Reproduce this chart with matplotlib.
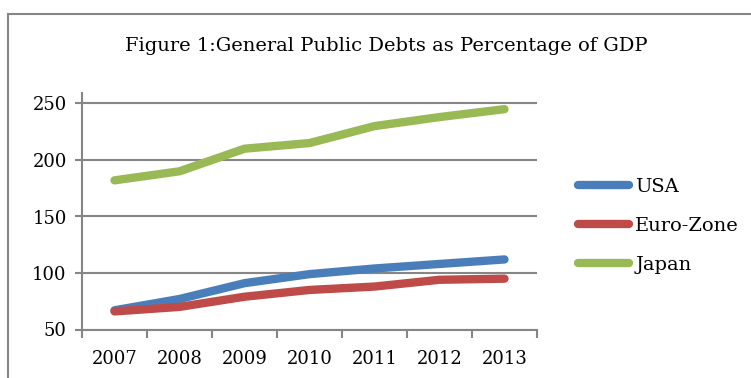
import matplotlib.pyplot as plt
from matplotlib.patches import Rectangle

# values (% of GDP)
years = ['2007', '2008', '2009', '2010', '2011', '2012', '2013']
usa = [67, 77, 91, 99, 104, 108, 112]
euro_zone = [66, 70, 79, 85, 88, 94, 95]
japan = [182, 190, 210, 215, 230, 238, 245]

plt.rcParams['font.family'] = ['DejaVu Serif']
grey = '#868686'

fig = plt.figure(figsize=(7.51, 3.78), dpi=100)
W, H = 751, 378

# chart area frame (runs off the right/bottom like the screenshot)
fig.patches.append(Rectangle((8 / W, -0.1), 1.0, 1 - 13.5 / H + 0.1, transform=fig.transFigure,
                             fill=False, edgecolor=grey, linewidth=1.5))

ax = fig.add_axes([82 / W, 1 - 329.5 / H, (537 - 82) / W, (329.5 - 93) / H])

x = range(len(years))
ax.plot(x, usa, color='#4A7EBB', lw=6, solid_capstyle='round', label='USA')
ax.plot(x, euro_zone, color='#BE4B48', lw=6, solid_capstyle='round', label='Euro-Zone')
ax.plot(x, japan, color='#98B954', lw=6, solid_capstyle='round', label='Japan')

ax.set_ylim(50, 50 + (329.5 - 93) / 1.13)
ax.set_xlim(-0.5, len(years) - 0.5)
ax.set_yticks([50, 100, 150, 200, 250])
ax.yaxis.grid(True, color=grey, lw=1.5)
ax.set_axisbelow(True)

# category boundaries get the tick marks, labels sit in the middle
ax.set_xticks([i - 0.5 for i in range(len(years) + 1)])
ax.set_xticklabels([])
ax.set_xticks(list(x), minor=True)
ax.set_xticklabels(years, minor=True)
ax.tick_params(axis='x', which='minor', length=0, pad=15, labelsize=13)
ax.tick_params(axis='x', which='major', length=6, width=1.5, color=grey)
ax.tick_params(axis='y', length=5, width=1.5, color=grey, labelsize=13, pad=6)

for s in ['top', 'right']:
    ax.spines[s].set_visible(False)
for s in ['left', 'bottom']:
    ax.spines[s].set_color(grey)
    ax.spines[s].set_linewidth(1.5)

fig.text(386 / W, 1 - 46 / H, 'Figure 1:General Public Debts as Percentage of GDP',
         ha='center', va='center', fontsize=14)

fig.legend(loc='center left', bbox_to_anchor=(560.5 / W, 1 - 226 / H), frameon=False,
           fontsize=14, handlelength=2.6, handletextpad=0.35, labelspacing=1.08)

fig.savefig('out.png', dpi=100)
